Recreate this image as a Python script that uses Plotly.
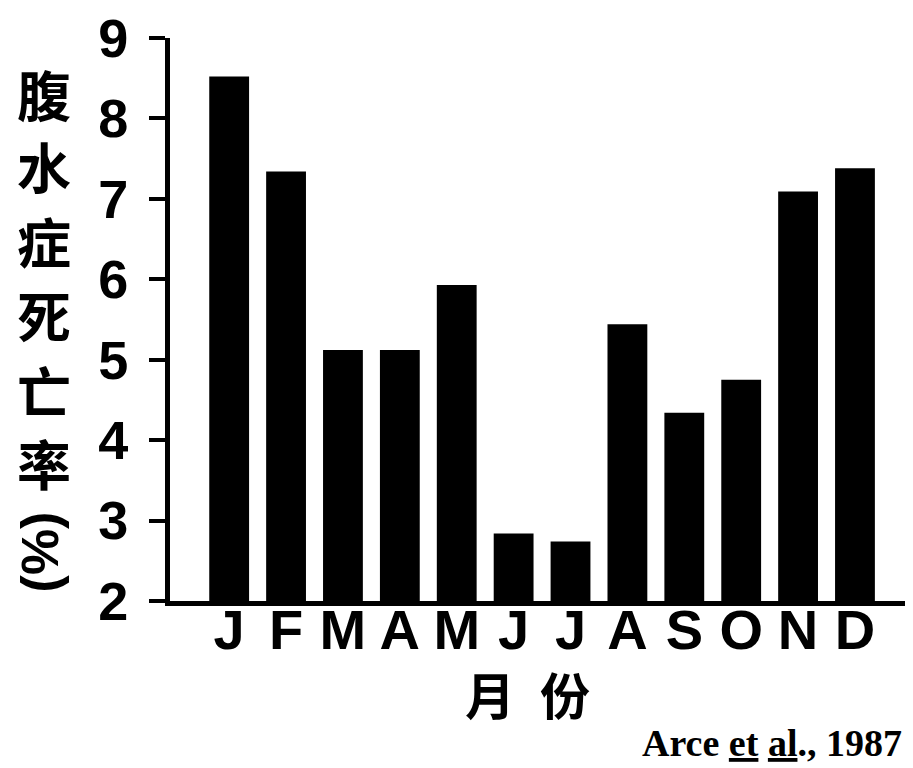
import plotly.graph_objects as go

months = ["J", "F", "M", "A", "M", "J", "J", "A", "S", "O", "N", "D"]
mortality = [8.52, 7.34, 5.12, 5.12, 5.93, 2.84, 2.74, 5.44, 4.34, 4.75, 7.09, 7.38]
y_ticks = [2, 3, 4, 5, 6, 7, 8, 9]
ylabel_chars = ["腹", "水", "症", "死", "亡", "率"]
ylabel_unit = "(%)"
xlabel_chars = ["月", "份"]
citation = 'Arce <span style="text-decoration:underline">et</span> <span style="text-decoration:underline">al</span>., 1987'

x_pos = list(range(len(months)))

# page offset (body margin) and plot-area geometry in page pixels
OFF = 8
PL, PR, PT, PB = 170, 913, 33, 601


def px(xp):
    return (xp - PL) / (PR - PL)


def py(yp):
    return (PB - yp) / (PB - PT)


fig = go.Figure()
fig.add_trace(go.Bar(
    x=x_pos, y=mortality, width=0.70,
    marker=dict(color="black", line=dict(width=0)),
))

fig.update_layout(
    width=913 - OFF, height=768 - OFF,
    margin=dict(l=PL - OFF, r=0, t=PT - OFF, b=768 - PB),
    paper_bgcolor="white", plot_bgcolor="white",
    showlegend=False,
    font=dict(family="Liberation Sans, Arial", color="black"),
)
fig.update_xaxes(
    range=[-1.04, 12.02], tickvals=x_pos, ticktext=months,
    showline=True, linecolor="black", linewidth=5,
    showgrid=False, zeroline=False, ticks="",
    ticklabelstandoff=-24,
    tickfont=dict(size=56, family="Liberation Sans, Arial", weight="bold"),
)
fig.update_yaxes(
    range=[2, 9], tickvals=y_ticks,
    showline=True, linecolor="black", linewidth=5,
    showgrid=False, zeroline=False, ticks="outside", ticklen=16, tickwidth=4,
    tickcolor="black", ticklabelstandoff=10, ticklabeloverflow="allow",
    tickfont=dict(size=54, family="Liberation Sans, Arial", weight="bold"),
)

# Y-axis title: upright stacked CJK characters + rotated (%)
ylabel_centers = [89, 162, 237, 312, 388, 461]
for ch, yc in zip(ylabel_chars, ylabel_centers):
    fig.add_annotation(
        text=ch, xref="paper", yref="paper", x=px(44), y=py(yc),
        showarrow=False, xanchor="center", yanchor="middle",
        font=dict(size=54, family="Noto Sans CJK SC", weight="bold"),
    )
fig.add_annotation(
    text=ylabel_unit, textangle=-90,
    xref="paper", yref="paper", x=px(40), y=py(552),
    showarrow=False, xanchor="center", yanchor="middle",
    font=dict(size=52, family="Liberation Sans, Arial", weight="bold"),
)
# X-axis title
for ch, xc in zip(xlabel_chars, [490, 565]):
    fig.add_annotation(
        text=ch, xref="paper", yref="paper", x=px(xc), y=py(694),
        showarrow=False, xanchor="center", yanchor="middle",
        font=dict(size=50, family="Noto Sans CJK SC", weight="bold"),
    )
# Citation
fig.add_annotation(
    text=citation,
    xref="paper", yref="paper", x=px(904), y=py(744),
    showarrow=False, xanchor="right", yanchor="middle",
    font=dict(size=38, family="Liberation Serif, Times New Roman", weight="bold"),
)

fig.write_html("out.html")
